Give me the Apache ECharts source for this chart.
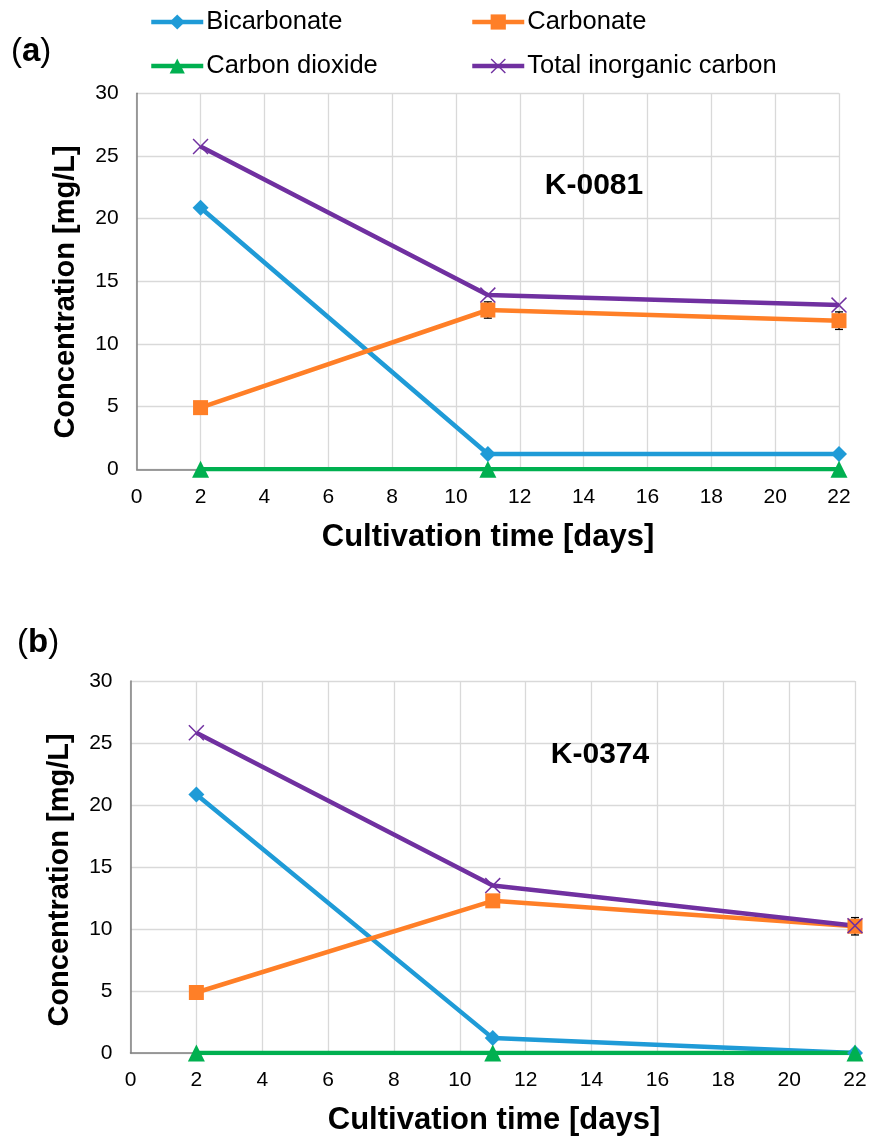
<!DOCTYPE html>
<html>
<head>
<meta charset="utf-8">
<script src="https://cdn.jsdelivr.net/npm/echarts@6/dist/echarts.min.js"></script>
<style>
  html, body { margin: 0; padding: 0; background: #fff; }
  #chart { width: 870px; height: 1137px; }
</style>
</head>
<body>
<div id="chart"></div>
<script>
// Sampling days shared by both strains
const days = [2, 11, 22];

// Strain K-0081 (panel a), mg/L
const bicarbonateA = [20.87, 1.22, 1.22];
const carbonateA = [4.92, 12.71, 11.86];
const co2A = [0, 0, 0];
const totalA = [25.75, 13.9, 13.1];
const carbonateErrA = [0, 0.65, 0.7];

// Strain K-0374 (panel b), mg/L
const bicarbonateB = [20.85, 1.2, 0];
const carbonateB = [4.88, 12.27, 10.22];
const co2B = [0, 0, 0];
const totalB = [25.82, 13.5, 10.27];
const carbonateErrB = [0, 0, 0.7];

const seriesNames = ['Bicarbonate', 'Carbonate', 'Carbon dioxide', 'Total inorganic carbon'];
const xTicks = [0, 2, 4, 6, 8, 10, 12, 14, 16, 18, 20, 22];
const yTicks = [0, 5, 10, 15, 20, 25, 30];

const COLORS = {
  'Bicarbonate': '#1f9bd7',
  'Carbonate': '#ff7f27',
  'Carbon dioxide': '#00b050',
  'Total inorganic carbon': '#7030a0'
};
const FONT = 'Liberation Sans, Arial, sans-serif';
const CROSS = 'path://M0,1.3 L1.3,0 L10,8.7 L18.7,0 L20,1.3 L11.3,10 L20,18.7 L18.7,20 L10,11.3 L1.3,20 L0,18.7 L8.7,10 Z';

const SYMBOLS = {
  'Bicarbonate': ['diamond', 16],
  'Carbonate': ['rect', 15],
  'Carbon dioxide': ['triangle', 17],
  'Total inorganic carbon': [CROSS, 16]
};

const pair = (vals) => days.map((d, i) => [d, vals[i]]);

function lineSeries(name, vals, axisIndex) {
  return {
    name: name,
    type: 'line',
    xAxisIndex: axisIndex,
    yAxisIndex: axisIndex,
    data: pair(vals),
    symbol: SYMBOLS[name][0],
    symbolSize: SYMBOLS[name][1],
    showSymbol: true,
    lineStyle: { color: COLORS[name], width: 4.5 },
    itemStyle: { color: COLORS[name] },
    emphasis: { disabled: true },
    animation: false
  };
}

function errorSeries(vals, errs, axisIndex) {
  const data = days.map((d, i) => [d, vals[i], errs[i]]).filter(r => r[2] > 0);
  return {
    type: 'custom',
    xAxisIndex: axisIndex,
    yAxisIndex: axisIndex,
    data: data,
    silent: true,
    animation: false,
    renderItem: function (params, api) {
      const x = api.value(0), y = api.value(1), e = api.value(2);
      const hi = api.coord([x, y + e]);
      const lo = api.coord([x, y - e]);
      const w = 4;
      const st = { stroke: '#000', lineWidth: 1.3 };
      return {
        type: 'group',
        children: [
          { type: 'line', shape: { x1: hi[0], y1: hi[1], x2: lo[0], y2: lo[1] }, style: st },
          { type: 'line', shape: { x1: hi[0] - w, y1: hi[1], x2: hi[0] + w, y2: hi[1] }, style: st },
          { type: 'line', shape: { x1: lo[0] - w, y1: lo[1], x2: lo[0] + w, y2: lo[1] }, style: st }
        ]
      };
    }
  };
}

function xAxisFor(gridIndex) {
  return {
    type: 'value', gridIndex: gridIndex,
    min: xTicks[0], max: xTicks[xTicks.length - 1], interval: 2,
    axisLine: { show: true, onZero: false, lineStyle: { color: '#808080', width: 1.5 } },
    axisTick: { show: false },
    axisLabel: { color: '#000', fontSize: 21, fontFamily: FONT, margin: 17 },
    splitLine: { show: true, lineStyle: { color: '#d9d9d9', width: 1.3 } }
  };
}
function yAxisFor(gridIndex) {
  return {
    type: 'value', gridIndex: gridIndex,
    min: yTicks[0], max: yTicks[yTicks.length - 1], interval: 5,
    axisLine: { show: true, lineStyle: { color: '#808080', width: 1.5 } },
    axisTick: { show: false },
    axisLabel: { color: '#000', fontSize: 21, fontFamily: FONT, margin: 18 },
    splitLine: { show: true, lineStyle: { color: '#d9d9d9', width: 1.3 } }
  };
}

function legendItem(name, left, top) {
  return {
    data: [name], left: left, top: top,
    itemWidth: 52, itemHeight: 19, itemGap: 0,
    selectedMode: false,
    lineStyle: { width: 4.5 },
    textStyle: { color: '#000', fontSize: 25.5, fontFamily: FONT, padding: [0, 0, 0, -2] },
    padding: 0
  };
}

function titleText(text, x, y, rotate, size) {
  return {
    type: 'text', x: x, y: y, z: 100, rotation: rotate ? Math.PI / 2 : 0,
    style: {
      text: text, fill: '#000', font: 'bold ' + size + 'px ' + FONT,
      textAlign: 'center', textVerticalAlign: 'middle'
    }
  };
}

function panelLabel(letter, x, y) {
  return {
    type: 'text', x: x, y: y, z: 100,
    style: {
      text: '{p|(}{l|' + letter + '}{p|)}',
      rich: {
        p: { fontSize: 33, fontFamily: FONT, fill: '#000' },
        l: { fontSize: 33, fontFamily: FONT, fontWeight: 'bold', fill: '#000' }
      },
      textVerticalAlign: 'middle'
    }
  };
}

const chart = echarts.init(document.getElementById('chart'), null, { renderer: 'canvas' });

chart.setOption({
  backgroundColor: '#fff',
  animation: false,
  legend: [
    legendItem(seriesNames[0], 149, 9),
    legendItem(seriesNames[1], 470, 9),
    legendItem(seriesNames[2], 149, 53),
    legendItem(seriesNames[3], 470, 53)
  ],
  grid: [
    { left: 136.7, top: 93.3, width: 702.3, height: 376, containLabel: false },
    { left: 130.5, top: 681, width: 724.5, height: 372, containLabel: false }
  ],
  xAxis: [xAxisFor(0), xAxisFor(1)],
  yAxis: [yAxisFor(0), yAxisFor(1)],
  graphic: [
    panelLabel('a', 11, 52),
    panelLabel('b', 17, 643),
    titleText('Concentration [mg/L]', 66, 292, true, 29),
    titleText('Cultivation time [days]', 488, 537, false, 31),
    titleText('Concentration [mg/L]', 60, 880, true, 29),
    titleText('Cultivation time [days]', 494, 1120, false, 31),
    titleText('K-0081', 594, 186, false, 30),
    titleText('K-0374', 600, 755, false, 30)
  ],
  series: [
    errorSeries(carbonateA, carbonateErrA, 0),
    lineSeries('Bicarbonate', bicarbonateA, 0),
    lineSeries('Carbonate', carbonateA, 0),
    lineSeries('Carbon dioxide', co2A, 0),
    lineSeries('Total inorganic carbon', totalA, 0),
    errorSeries(carbonateB, carbonateErrB, 1),
    lineSeries('Bicarbonate', bicarbonateB, 1),
    lineSeries('Carbonate', carbonateB, 1),
    lineSeries('Carbon dioxide', co2B, 1),
    lineSeries('Total inorganic carbon', totalB, 1)
  ]
});
</script>
</body>
</html>
